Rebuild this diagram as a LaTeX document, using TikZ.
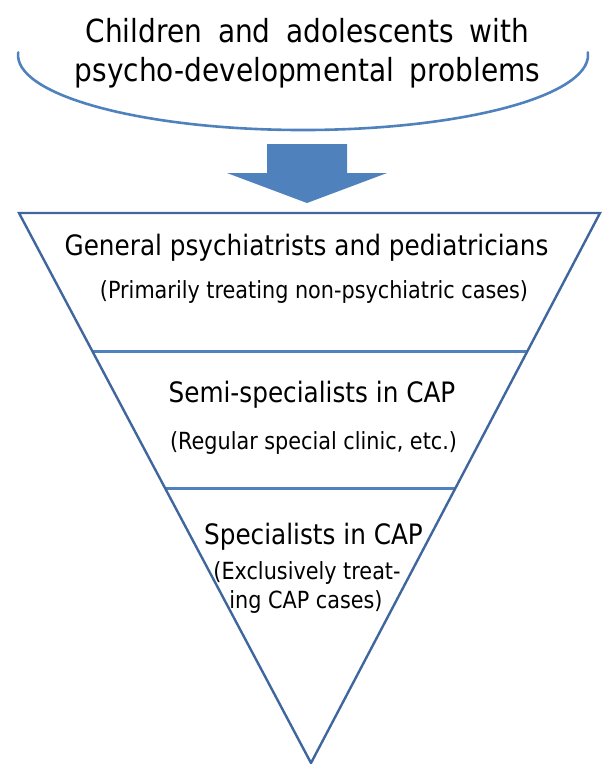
\documentclass[tikz,border=0pt]{standalone}
\usepackage{fontspec}
\setmainfont[FakeStretch=0.88]{DejaVu Sans}
\usetikzlibrary{calc}
\definecolor{edgeblue}{HTML}{40669E}
\definecolor{fillblue}{HTML}{4F81BD}
% wide word spacing for the heading
\newcommand\headingfont{\fontsize{31.8}{38}\selectfont\spaceskip 0.5em plus 0.1em\relax}
\begin{document}
\begin{tikzpicture}[x=1pt,y=-1pt,
  headline/.style={font=\headingfont, inner sep=0pt, anchor=base},
  bigtext/.style={font=\fontsize{28.1}{34}\selectfont, inner sep=0pt, anchor=base},
  smalltext/.style={font=\fontsize{23.6}{28}\selectfont, inner sep=0pt, anchor=base},
  funneledge/.style={draw=edgeblue, line width=2.4pt, line join=miter},
  tierline/.style={draw=fillblue, line width=3pt},
  bowl/.style={draw=fillblue, line width=2.6pt, line cap=round},
  blockarrow/.style={fill=fillblue, draw=none}]
\useasboundingbox (0,0) rectangle (602,764);

% heading over a bowl-shaped curve
\node[headline] (head1) at (307.5,42) {Children and adolescents with};
\node[headline] (head2) at (307.5,81) {psycho-developmental problems};
\draw[bowl] (18.2,52.4) arc[start angle=178, end angle=362, x radius=285pt, y radius=75pt];

% downward block arrow
\fill[blockarrow] (267,144) -- (347,144) -- (347,173) -- (387,173) -- (307,203)
  -- (227,173) -- (267,173) -- cycle;

% inverted funnel with its tiers
\coordinate (tl) at (19,213);
\coordinate (tr) at (600,213);
\coordinate (apex) at (311,763);
\coordinate (l1) at ($(tl)!0.2527!(apex)$);
\coordinate (r1) at ($(tr)!0.2527!(apex)$);
\coordinate (l2) at ($(tl)!0.5018!(apex)$);
\coordinate (r2) at ($(tr)!0.5018!(apex)$);
\draw[tierline] (l1) -- (r1);
\draw[tierline] (l2) -- (r2);
\draw[funneledge] (tl) -- (tr) -- (apex) -- cycle;

% tier labels
\node[bigtext] (gen) at (306.5,255) {General psychiatrists and pediatricians};
\node[smalltext] (gensub) at (314,298) {(Primarily treating non-psychiatric cases)};
\node[bigtext] (semi) at (312,402) {Semi-specialists in CAP};
\node[smalltext] (semisub) at (313.5,449) {(Regular special clinic, etc.)};
\node[bigtext] (spec) at (313.5,544) {Specialists in CAP};
\node[smalltext] (specsub1) at (307,579) {(Exclusively treat-};
\node[smalltext] (specsub2) at (306,608) {ing CAP cases)};
\end{tikzpicture}
\end{document}
